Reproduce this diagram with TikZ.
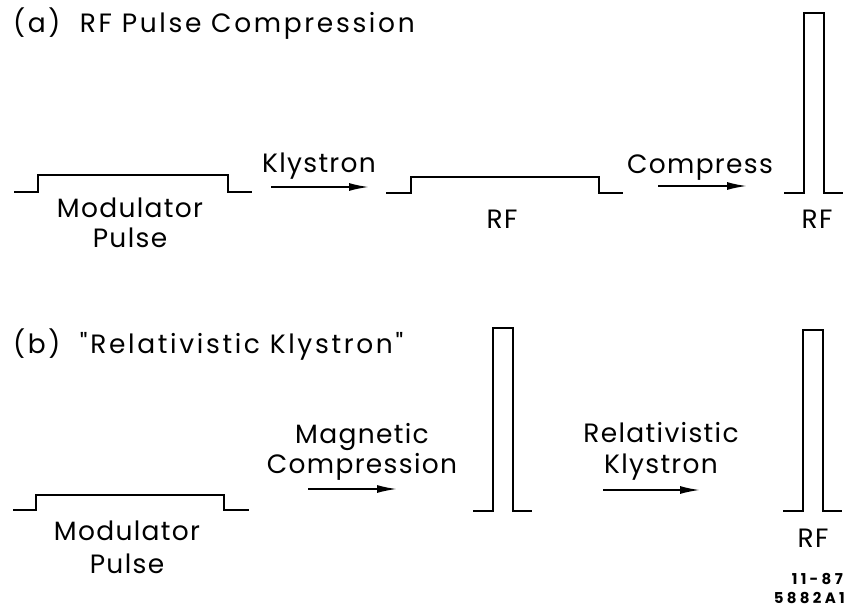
\documentclass[tikz,border=0pt]{standalone}
\usepackage{fontspec}
\setmainfont{Poppins}
\newfontfamily\lblfont[LetterSpace=5]{Poppins}
\newfontfamily\ttlfont[LetterSpace=10]{Poppins}
\newfontfamily\codefont[LetterSpace=22]{Poppins}
\usetikzlibrary{arrows.meta}
\begin{document}
\begin{tikzpicture}[x=1pt,y=-1pt,
  pulse/.style={line width=2pt, line join=miter},
  flow/.style={line width=1.8pt, -{Latex[length=20pt,width=8pt]}},
  lbl/.style={font=\lblfont\fontsize{26.5}{30}\selectfont, inner sep=0pt, anchor=base},
  ttl/.style={font=\ttlfont\fontsize{26.5}{30}\selectfont, inner sep=0pt, anchor=base west},
  code/.style={font=\codefont\fontsize{15}{18}\selectfont\bfseries, inner sep=0pt, anchor=base east}]
\useasboundingbox (0,0) rectangle (844,608);
% titles
\node[ttl] (ta) at (13,32) {(a)\ \ RF Pulse Compression};
\node[ttl] (tb) at (13,353) {(b)\ \ \symbol{34}Relativistic Klystron\symbol{34}};
% (a) pulses
\draw[pulse] (14,192) -- (38,192) -- (38,175) -- (228,175) -- (228,192) -- (252,192);
\draw[pulse] (386,193) -- (411,193) -- (411,177) -- (599,177) -- (599,193) -- (623,193);
\draw[pulse] (784,193) -- (804,193) -- (804,13) -- (824,13) -- (824,193) -- (843,193);
% (b) pulses
\draw[pulse] (13,510) -- (36,510) -- (36,495) -- (224,495) -- (224,510) -- (249,510);
\draw[pulse] (473,511) -- (493,511) -- (493,328) -- (513,328) -- (513,511) -- (532,511);
\draw[pulse] (783,511) -- (803,511) -- (803,330) -- (823,330) -- (823,511) -- (842,511);
% arrow ends
\coordinate (k1) at (271,187); \coordinate (k2) at (369,187);
\coordinate (c1) at (658,186); \coordinate (c2) at (747,186);
\coordinate (m1) at (308,489); \coordinate (m2) at (397,489);
\coordinate (r1) at (603,490); \coordinate (r2) at (700,490);
\draw[flow] (k1) -- (k2);
\draw[flow] (c1) -- (c2);
\draw[flow] (m1) -- (m2);
\draw[flow] (r1) -- (r2);
% labels (a)
\node[lbl] (modA) at (130,217) {Modulator};
\node[lbl] (pulA) at (130,247) {Pulse};
\node[lbl] (klyA) at (319,172) {Klystron};
\node[lbl] (rfA1) at (502,228) {RF};
\node[lbl] (cmpA) at (700,173) {Compress};
\node[lbl] (rfA2) at (817,228) {RF};
% labels (b)
\node[lbl] (modB) at (127,540) {Modulator};
\node[lbl] (pulB) at (127,573) {Pulse};
\node[lbl] (magB) at (362,443) {Magnetic};
\node[lbl] (comB) at (362,473) {Compression};
\node[lbl] (relB) at (661,442) {Relativistic};
\node[lbl] (klyB) at (661,473) {Klystron};
\node[lbl] (rfB) at (813,547) {RF};
\node[code] (date) at (843,584) {11-87};
\node[code] (num) at (845,603) {5882A1};
\end{tikzpicture}
\end{document}
